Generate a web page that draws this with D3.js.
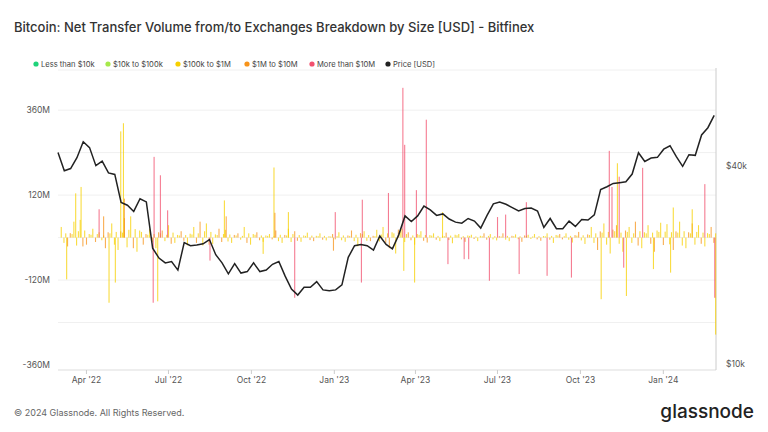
<!DOCTYPE html>
<html><head><meta charset="utf-8">
<script src="https://cdn.jsdelivr.net/npm/d3@7"></script>
<style>body{margin:0;background:#fff;font-family:Inter,"Open Sans",sans-serif}</style>
</head><body><svg id="c" width="768" height="432"></svg>
<script>
const legendItems = [["Less than $10k","#1fd37a"],["$10k to $100k","#a6e94a"],["$100k to $1M","#f7d000"],["$1M to $10M","#f7931a"],["More than $10M","#f2506e"],["Price [USD]","#222"]];
const catColor = {a:"#1fd37a",b:"#a6e94a",c:"#f7d000",d:"#f7931a",e:"#f2506e"};
// weekly BTC price (USD), starting 2022-03-01
const priceStart = "2022-03-01";
const prices = [44000,38700,39300,42400,47400,45500,40100,41400,38100,37700,31000,30400,29100,31800,31100,22500,21000,20300,20500,19300,23400,22900,23000,23200,23900,21500,20300,18800,20200,18900,19100,20300,19100,19300,20100,20500,18500,16900,16200,17100,17100,17800,16800,16700,
16800,17400,21100,22900,23100,22900,22200,24500,23100,22400,24700,28200,27100,28200,30200,29400,28300,28600,27600,27000,26800,27700,27200,25900,28300,30700,31100,30600,29900,29200,29700,29800,29200,26000,27700,25800,25800,27200,26200,27500,27400,28400,33900,34600,35400,35600,35800,37800,43900,41300,42300,42500,
45000,46100,42700,39900,43300,43100,49700,52300,57000];
// notable daily net transfer bars: [date, value in $M, size cohort]
const spikes = [
["2022-03-10",-118,"c"],["2022-03-20",125,"c"],["2022-03-26",143,"c"],["2022-04-15",80,"e"],["2022-04-20",60,"d"],["2022-04-26",-184,"c"],["2022-05-03",-127,"c"],["2022-05-09",300,"c"],["2022-05-12",323,"c"],["2022-05-13",110,"d"],
["2022-06-15",228,"e"],["2022-06-14",-184,"e"],["2022-06-19",-180,"c"],["2022-06-22",176,"e"],["2022-06-30",77,"e"],["2022-08-16",-65,"e"],["2022-09-01",105,"c"],["2022-09-03",60,"d"],["2022-10-14",-46,"c"],["2022-10-26",198,"c"],["2022-10-27",70,"d"],
["2022-11-11",72,"c"],["2022-11-18",-170,"e"],["2023-01-02",72,"e"],["2022-12-31",-37,"d"],["2023-02-01",107,"e"],["2023-01-31",-127,"e"],["2023-03-02",126,"e"],["2023-03-18",423,"e"],["2023-03-20",262,"e"],["2023-03-19",-94,"c"],
["2023-03-31",-127,"c"],["2023-04-02",134,"e"],["2023-04-13",333,"e"],["2023-05-01",72,"c"],["2023-05-07",-75,"e"],["2023-05-25",-61,"e"],["2023-05-30",-61,"e"],["2023-06-22",-122,"e"],["2023-07-01",58,"e"],["2023-07-10",65,"e"],
["2023-07-25",-103,"e"],["2023-08-02",100,"e"],["2023-08-25",-108,"e"],["2023-09-21",-113,"e"],["2023-10-24",-174,"c"],["2023-11-02",245,"e"],["2023-11-05",143,"e"],["2023-11-11",210,"c"],["2023-11-13",172,"e"],["2023-11-21",-165,"c"],["2023-11-18",-85,"e"],
["2023-12-09",197,"e"],["2023-12-21",-89,"c"],["2024-01-09",-99,"c"],["2024-01-12",85,"c"],["2024-02-02",80,"c"],["2024-02-16",151,"e"],["2024-02-28",-274,"c"],["2024-02-27",-170,"e"]];
// weekly typical background activity, $M (starting 2022-03-04)
const smallStart = "2022-03-04";
const small = [30,-25,45,50,-20,25,15,-30,40,-35,55,60,-40,-20,25,-30,20,35,-15,18,-22,30,45,40,-18,25,22,-15,12,30,-20,15,-12,10,20,-15,25,18,-12,14,-10,12,-8,10,
15,-12,20,-25,18,-10,22,30,-30,-45,25,15,-20,18,-14,12,-10,14,-16,10,-12,8,-10,12,10,-8,12,-10,9,-12,8,10,-9,12,-15,10,12,-14,16,-18,30,-35,40,-45,35,-40,30,45,-30,35,-40,
42,38,-35,45,-30,40,35,-25,30];
const yTicks = [360,120,-120,-360];

const svg = d3.select("#c");
const L=58,R=716,T=68,B=370;
const x = d3.scaleTime().domain([new Date("2022-03-01"),new Date("2024-02-29")]).range([L,R]);
const y = d3.scaleLinear().domain([-374,479]).range([B,T]);
const yp = d3.scaleLog().domain([10000,40000]).range([364,166]);

svg.append("text").attr("x",14).attr("y",32).attr("font-size",13).attr("font-weight",500).attr("fill","#333")
 .text("Bitcoin: Net Transfer Volume from/to Exchanges Breakdown by Size [USD] - Bitfinex");
const lxs=[36,108,178,247,312,388];
legendItems.forEach(([t,c],i)=>{
  const lx=lxs[i];
  svg.append("circle").attr("cx",lx).attr("cy",64).attr("r",2.6).attr("fill",c);
  svg.append("text").attr("x",lx+5).attr("y",67).attr("font-size",7.6).attr("fill","#444").text(t);
});
svg.append("line").attr("x1",58).attr("x2",716).attr("y1",70).attr("y2",70).attr("stroke","#f0f0f0");
[-240,-120,0,120,240,360].forEach(v=>svg.append("line").attr("x1",L).attr("x2",R).attr("y1",y(v)).attr("y2",y(v)).attr("stroke","#f0f0f0"));
yTicks.forEach(v=>svg.append("text").attr("x",50).attr("y",y(v)+3).attr("text-anchor","end").attr("font-size",8.5).attr("fill","#555").text(v+"M"));
svg.append("text").attr("x",726).attr("y",yp(40000)+3).attr("font-size",8.5).attr("fill","#555").text("$40k");
svg.append("text").attr("x",726).attr("y",yp(10000)+3).attr("font-size",8.5).attr("fill","#555").text("$10k");
svg.append("line").attr("x1",L).attr("x2",R).attr("y1",B).attr("y2",B).attr("stroke","#ddd");
svg.append("line").attr("x1",R).attr("x2",R).attr("y1",T).attr("y2",B).attr("stroke","#ccc");
const xa = svg.append("g").attr("transform",`translate(0,${B})`).call(d3.axisBottom(x).ticks(d3.timeMonth.every(3)).tickSize(4).tickFormat(d=>d3.timeFormat("%b '%y")(d)));
xa.select(".domain").remove();
xa.selectAll("line").attr("stroke","#ccc");
xa.selectAll("text").attr("font-size",8.5).attr("fill","#555").attr("font-family","Inter,sans-serif");
const parse=d3.timeParse("%Y-%m-%d");
const s0=parse(smallStart);
const smallData = small.map((v,i)=>[d3.timeDay.offset(s0,i*7),v,i%3===1?"d":"c"]);
const smallData2 = small.map((v,i)=>[d3.timeDay.offset(s0,i*7+3),-v*0.5,i%2?"d":"c"]);
const smallData3 = small.map((v,i)=>[d3.timeDay.offset(s0,i*7+5),Math.abs(v)*0.4,"c"]);
const bars = smallData.concat(smallData2, smallData3, spikes.map(d=>[parse(d[0]),d[1],d[2]]));
svg.append("g").selectAll("rect").data(bars).join("rect")
 .attr("x",d=>x(d[0])).attr("width",1.1)
 .attr("y",d=>y(Math.max(0,d[1]))).attr("height",d=>Math.abs(y(d[1])-y(0)))
 .attr("fill",d=>catColor[d[2]]).attr("opacity",0.75);
const p0=parse(priceStart);
const pd=prices.map((v,i)=>[d3.timeDay.offset(p0,Math.min(i*7,729)),v]);
svg.append("path").datum(pd).attr("fill","none").attr("stroke","#222").attr("stroke-width",1.5)
 .attr("d",d3.line().x(d=>x(d[0])).y(d=>yp(d[1])));
svg.append("text").attr("x",14).attr("y",416).attr("font-size",9).attr("fill","#666").text("© 2024 Glassnode. All Rights Reserved.");
svg.append("text").attr("x",754).attr("y",418).attr("text-anchor","end").attr("font-size",19).attr("font-weight",500).attr("fill","#222").text("glassnode");
</script></body></html>
